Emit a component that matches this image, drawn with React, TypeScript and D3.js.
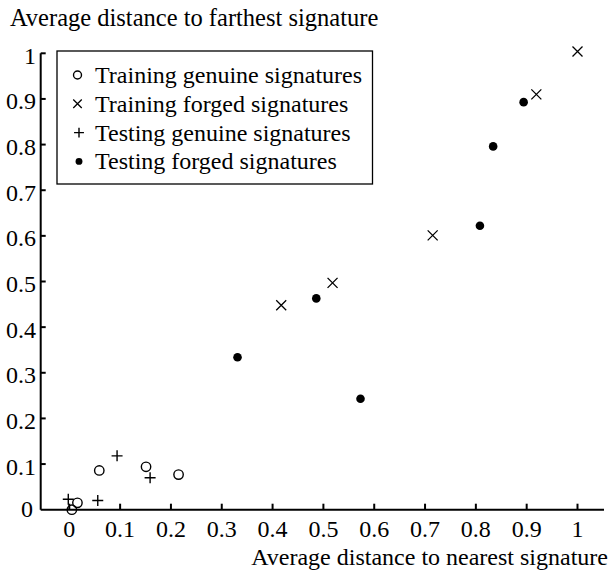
import * as d3 from "d3";
import React from "react";

// x = average distance to nearest, y = average distance to farthest
const trainGenuineX = [0.005, 0.016, 0.059, 0.151, 0.215];
const trainGenuineY = [0.0, 0.015, 0.086, 0.094, 0.077];

const trainForgedX = [0.417, 0.518, 0.715, 0.919, 1.0];
const trainForgedY = [0.448, 0.497, 0.601, 0.91, 1.004];

const testGenuineX = [-0.002, 0.056, 0.094, 0.159];
const testGenuineY = [0.023, 0.02, 0.118, 0.07];

const testForgedX = [0.331, 0.486, 0.573, 0.808, 0.834, 0.894];
const testForgedY = [0.334, 0.463, 0.243, 0.622, 0.796, 0.893];

const ticks = [0, 0.1, 0.2, 0.3, 0.4, 0.5, 0.6, 0.7, 0.8, 0.9, 1];
const legendLabels = [
  "Training genuine signatures",
  "Training forged signatures",
  "Testing genuine signatures",
  "Testing forged signatures",
];

const font = '"Liberation Serif", "Times New Roman", Times, serif';

function Marker({ kind, x, y, s }: { kind: number; x: number; y: number; s: number }) {
  if (kind === 0)
    return <circle cx={x} cy={y} r={4.7 * s} fill="none" stroke="#000" strokeWidth={1.4} />;
  if (kind === 1) {
    const h = 5 * s;
    return (
      <path d={`M${x - h},${y - h}L${x + h},${y + h}M${x - h},${y + h}L${x + h},${y - h}`} stroke="#000" strokeWidth={1.3} />
    );
  }
  if (kind === 2) {
    const h = 5.5 * s;
    return <path d={`M${x - h},${y}L${x + h},${y}M${x},${y - h}L${x},${y + h}`} stroke="#000" strokeWidth={1.4} />;
  }
  return <circle cx={x} cy={y} r={4.3 * s} fill="#000" />;
}

export default function App() {
  const width = 612;
  const height = 574;
  const x = d3.scaleLinear().domain([0, 1]).range([69.3, 577.5]);
  const y = d3.scaleLinear().domain([0, 1]).range([509.7, 53.3]);
  const axisLeft = 40.7;
  const axisRight = 604;

  const series = [
    [trainGenuineX, trainGenuineY],
    [trainForgedX, trainForgedY],
    [testGenuineX, testGenuineY],
    [testForgedX, testForgedY],
  ];
  const fmt = d3.format("");
  const ts = { fontFamily: font, fontSize: "24px" };

  return (
    <svg width={width} height={height} style={{ position: "absolute", left: 0, top: 0, background: "#fff", fontFamily: font }}>
      <rect width={width} height={height} fill="#fff" />
      {/* axes */}
      <line x1={axisLeft} x2={axisRight} y1={y(0)} y2={y(0)} stroke="#000" strokeWidth={2} />
      <line x1={axisLeft} x2={axisLeft} y1={y(1)} y2={y(0)} stroke="#000" strokeWidth={2} />
      {ticks.map((t) => (
        <g key={"x" + t}>
          <line x1={x(t)} x2={x(t)} y1={y(0)} y2={y(0) - 6} stroke="#000" strokeWidth={2} />
          <text x={x(t)} y={537} textAnchor="middle" style={ts}>{fmt(t)}</text>
        </g>
      ))}
      {ticks.map((t) => (
        <g key={"y" + t}>
          {t > 0 && <line x1={axisLeft} x2={axisLeft + 5} y1={y(t)} y2={y(t)} stroke="#000" strokeWidth={2} />}
          <text x={t === 0 ? 33 : 36} y={t === 0 ? 517 : y(t) + 10.5} textAnchor="end" style={ts}>{fmt(t)}</text>
        </g>
      ))}
      <text x={10} y={25.5} style={{ ...ts, fontSize: "24.5px" }}>Average distance to farthest signature</text>
      <text x={608} y={565} textAnchor="end" style={ts}>Average distance to nearest signature</text>

      {/* points */}
      {series.map(([xs, ys], k) =>
        xs.map((v, i) => <Marker key={k + "-" + i} kind={k} x={x(v)} y={y(ys[i])} s={1} />)
      )}

      {/* legend */}
      <rect x={57} y={51} width={315.5} height={133} fill="#fff" stroke="#000" strokeWidth={1.3} />
      {legendLabels.map((l, i) => (
        <g key={l}>
          <Marker kind={i} x={i < 2 ? 77.5 : 79} y={75 + i * 28.8} s={i === 3 ? 0.8 : i === 2 ? 0.9 : 0.85} />
          <text x={95} y={83 + i * 28.8} style={ts}>{l}</text>
        </g>
      ))}
    </svg>
  );
}
